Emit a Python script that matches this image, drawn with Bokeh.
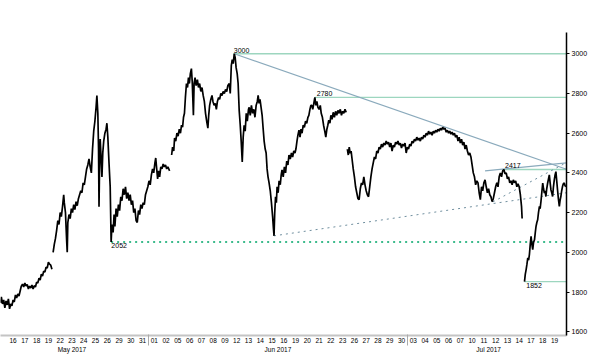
from bokeh.plotting import figure
from bokeh.models import Range1d, FixedTicker, LinearAxis, Label
from bokeh.embed import file_html
from bokeh.resources import INLINE

# x = business-day index (0 = 16 May 2017), y = price
day_labels = ["16", "17", "18", "19", "22", "23", "24", "25", "26", "29", "30", "31",
              "01", "02", "05", "06", "07", "08", "09", "12", "13", "14", "15", "16",
              "19", "20", "21", "22", "23", "26", "27", "28", "29", "30",
              "03", "04", "05", "06", "07", "10", "11", "12", "13", "14", "17", "18", "19"]
month_names = ["May 2017", "Jun 2017", "Jul 2017"]
month_pos = [5.0, 22.5, 40.4]
month_breaks = [11.5, 33.5]
y_ticks = [1600, 1800, 2000, 2200, 2400, 2600, 2800, 3000]

seg1 = [(-1.07, 1745), (-1.0, 1775), (-0.9, 1740), (-0.8, 1760), (-0.7, 1720), (-0.6, 1755),
        (-0.5, 1735), (-0.4, 1765), (-0.3, 1715), (-0.2, 1740), (-0.1, 1730), (0.0, 1760),
        (0.1, 1750), (0.2, 1785), (0.3, 1770), (0.4, 1790), (0.5, 1780), (0.6, 1805),
        (0.7, 1830), (0.8, 1840), (0.9, 1825), (1.0, 1845), (1.1, 1830), (1.2, 1838),
        (1.3, 1815), (1.4, 1830), (1.5, 1820), (1.6, 1835), (1.7, 1815), (1.8, 1832),
        (1.9, 1825), (2.0, 1850), (2.1, 1845), (2.2, 1870), (2.3, 1860), (2.4, 1890),
        (2.5, 1880), (2.6, 1905), (2.7, 1900), (2.8, 1925), (2.9, 1920), (3.0, 1950),
        (3.1, 1940), (3.2, 1935), (3.3, 1915)]

seg2 = [(3.4, 2000), (3.5, 2040), (3.6, 2070), (3.7, 2110), (3.8, 2160), (3.9, 2140),
        (4.0, 2200), (4.1, 2180), (4.2, 2230), (4.3, 2290), (4.35, 2250), (4.45, 2200),
        (4.55, 2060), (4.6, 2000), (4.65, 2150), (4.75, 2190), (4.85, 2170), (4.95, 2220),
        (5.05, 2200), (5.15, 2240), (5.25, 2215), (5.35, 2255), (5.45, 2235), (5.55, 2270),
        (5.65, 2290), (5.75, 2310), (5.85, 2300), (5.95, 2350), (6.05, 2340), (6.15, 2380),
        (6.25, 2420), (6.35, 2440), (6.45, 2470), (6.55, 2430), (6.65, 2400), (6.75, 2520),
        (6.85, 2610), (6.95, 2660), (7.05, 2730), (7.12, 2790), (7.2, 2700), (7.26, 2520),
        (7.3, 2230), (7.35, 2450), (7.4, 2570), (7.48, 2470), (7.55, 2380), (7.62, 2500),
        (7.7, 2560), (7.8, 2600), (7.9, 2620), (7.97, 2650), (8.05, 2580), (8.15, 2450),
        (8.25, 2330), (8.33, 2052), (8.4, 2140), (8.5, 2100), (8.58, 2190), (8.65, 2130),
        (8.75, 2220), (8.85, 2180), (8.95, 2240), (9.05, 2210), (9.15, 2280), (9.25, 2260),
        (9.35, 2320), (9.45, 2290), (9.55, 2330), (9.65, 2270), (9.75, 2300), (9.85, 2260),
        (9.95, 2290), (10.05, 2240), (10.15, 2260), (10.25, 2200), (10.35, 2220),
        (10.45, 2160), (10.55, 2150), (10.65, 2210), (10.75, 2190), (10.85, 2240),
        (10.95, 2220), (11.05, 2250), (11.15, 2240), (11.25, 2290), (11.35, 2310),
        (11.45, 2330), (11.55, 2360), (11.65, 2340), (11.75, 2390), (11.85, 2420),
        (11.95, 2400), (12.05, 2450), (12.12, 2475), (12.2, 2420), (12.28, 2370),
        (12.36, 2410), (12.45, 2380), (12.55, 2430), (12.65, 2420), (12.75, 2445),
        (12.85, 2430), (12.95, 2440), (13.05, 2420), (13.15, 2430), (13.3, 2410)]

seg3 = [(13.47, 2490), (13.55, 2530), (13.65, 2510), (13.72, 2575), (13.82, 2560),
        (13.92, 2600), (14.02, 2585), (14.12, 2620), (14.22, 2600), (14.31, 2640),
        (14.4, 2630), (14.48, 2680), (14.56, 2700), (14.64, 2780), (14.73, 2850),
        (14.82, 2830), (14.9, 2880), (14.98, 2850), (15.06, 2900), (15.15, 2925),
        (15.22, 2860), (15.28, 2760), (15.32, 2690), (15.38, 2850), (15.46, 2880),
        (15.55, 2840), (15.66, 2870), (15.75, 2830), (15.85, 2850), (15.95, 2810),
        (16.05, 2830), (16.15, 2790), (16.25, 2760), (16.35, 2700), (16.45, 2660),
        (16.55, 2625), (16.62, 2690), (16.7, 2740), (16.8, 2770), (16.9, 2790),
        (16.98, 2760), (17.08, 2740), (17.18, 2750), (17.27, 2720), (17.36, 2760),
        (17.46, 2780), (17.55, 2770), (17.65, 2800), (17.75, 2790), (17.85, 2810),
        (17.95, 2800), (18.05, 2820), (18.15, 2810), (18.25, 2840), (18.37, 2850),
        (18.45, 2800), (18.54, 2940), (18.62, 2970), (18.7, 2950), (18.79, 3000),
        (18.87, 2980), (18.95, 2930), (19.04, 2900), (19.12, 2850), (19.21, 2715),
        (19.3, 2640), (19.38, 2560), (19.47, 2455), (19.55, 2580), (19.63, 2640),
        (19.72, 2610), (19.81, 2700), (19.9, 2660), (20.0, 2720), (20.06, 2730),
        (20.15, 2690), (20.25, 2740), (20.35, 2700), (20.45, 2720), (20.55, 2680),
        (20.65, 2740), (20.75, 2760), (20.82, 2790), (20.9, 2750), (20.98, 2770),
        (21.07, 2730), (21.16, 2690), (21.25, 2620), (21.33, 2560), (21.42, 2520),
        (21.5, 2500), (21.58, 2420), (21.66, 2380), (21.75, 2350), (21.85, 2310),
        (21.95, 2250), (22.05, 2180), (22.12, 2120), (22.17, 2083), (22.23, 2200),
        (22.3, 2280), (22.37, 2250), (22.43, 2330), (22.52, 2300), (22.6, 2360),
        (22.7, 2340), (22.78, 2390), (22.85, 2415), (22.95, 2380), (23.05, 2430),
        (23.15, 2400), (23.25, 2460), (23.35, 2440), (23.44, 2490), (23.55, 2470),
        (23.65, 2500), (23.75, 2480), (23.85, 2510), (23.95, 2500), (24.03, 2520),
        (24.12, 2560), (24.2, 2590), (24.29, 2615), (24.38, 2580), (24.46, 2620),
        (24.55, 2600), (24.65, 2640), (24.75, 2630), (24.85, 2660), (24.95, 2650),
        (25.05, 2680), (25.13, 2690), (25.22, 2720), (25.3, 2740), (25.38, 2740),
        (25.46, 2720), (25.55, 2750), (25.64, 2780), (25.72, 2740), (25.81, 2760),
        (25.9, 2730), (26.0, 2720), (26.1, 2740), (26.18, 2700), (26.28, 2680),
        (26.38, 2640), (26.48, 2610), (26.57, 2580), (26.66, 2620), (26.74, 2640),
        (26.82, 2665), (26.92, 2650), (27.0, 2690), (27.1, 2670), (27.2, 2705),
        (27.3, 2680), (27.4, 2710), (27.5, 2690), (27.6, 2715), (27.7, 2700),
        (27.8, 2720), (27.9, 2690), (28.0, 2710), (28.1, 2700), (28.2, 2720), (28.3, 2705)]

seg4 = [(28.4, 2520), (28.48, 2490), (28.56, 2530), (28.64, 2500), (28.72, 2510),
        (28.8, 2470), (28.9, 2420), (29.0, 2380), (29.1, 2330), (29.2, 2300), (29.3, 2270),
        (29.4, 2265), (29.5, 2320), (29.6, 2350), (29.7, 2340), (29.8, 2380), (29.9, 2340),
        (30.0, 2310), (30.1, 2290), (30.2, 2280), (30.3, 2330), (30.4, 2380), (30.5, 2420),
        (30.6, 2450), (30.7, 2480), (30.8, 2470), (30.9, 2510), (31.0, 2500), (31.1, 2530),
        (31.2, 2520), (31.3, 2545), (31.4, 2530), (31.5, 2550), (31.6, 2540), (31.7, 2560),
        (31.8, 2545), (31.9, 2555), (32.0, 2530), (32.1, 2550), (32.2, 2510), (32.3, 2540),
        (32.4, 2530), (32.5, 2555), (32.6, 2545), (32.7, 2560), (32.8, 2540), (32.9, 2550),
        (33.0, 2525), (33.1, 2545), (33.2, 2535), (33.3, 2550), (33.4, 2500), (33.5, 2530),
        (33.6, 2520), (33.7, 2545), (33.8, 2535), (33.9, 2560), (34.0, 2550), (34.1, 2570),
        (34.2, 2560), (34.3, 2580), (34.4, 2565), (34.5, 2575), (34.6, 2560), (34.7, 2580),
        (34.8, 2570), (34.9, 2590), (35.0, 2580), (35.1, 2600), (35.2, 2590), (35.3, 2610),
        (35.4, 2595), (35.5, 2605), (35.6, 2590), (35.7, 2610), (35.8, 2600), (35.9, 2615),
        (36.0, 2605), (36.1, 2620), (36.2, 2610), (36.3, 2625), (36.4, 2615), (36.5, 2630),
        (36.6, 2620), (36.7, 2625), (36.8, 2605), (36.9, 2615), (37.0, 2600), (37.1, 2610),
        (37.2, 2595), (37.3, 2605), (37.4, 2590), (37.5, 2600), (37.6, 2580), (37.7, 2590),
        (37.8, 2560), (37.9, 2580), (38.0, 2550), (38.1, 2570), (38.2, 2540), (38.3, 2555),
        (38.4, 2520), (38.5, 2540), (38.6, 2510), (38.7, 2490), (38.8, 2500), (38.9, 2480),
        (39.0, 2440), (39.1, 2400), (39.2, 2380), (39.3, 2340), (39.4, 2360), (39.5, 2350),
        (39.6, 2300), (39.7, 2265), (39.8, 2330), (39.9, 2310), (40.0, 2350), (40.1, 2365),
        (40.2, 2330), (40.3, 2300), (40.4, 2320), (40.5, 2290), (40.6, 2280), (40.7, 2255),
        (40.8, 2270), (40.9, 2300), (41.0, 2330), (41.1, 2350), (41.2, 2330), (41.3, 2380),
        (41.4, 2400), (41.5, 2380), (41.6, 2410), (41.7, 2417), (41.8, 2395), (41.9, 2400),
        (42.0, 2370), (42.1, 2380), (42.2, 2350), (42.3, 2360), (42.4, 2340), (42.5, 2365),
        (42.6, 2350), (42.7, 2360), (42.8, 2330), (42.9, 2345), (43.0, 2330), (43.1, 2290),
        (43.2, 2230), (43.25, 2170)]

seg5 = [(43.45, 1852), (43.52, 1890), (43.59, 1913), (43.66, 1940), (43.73, 1972),
        (43.8, 1960), (43.87, 1990), (43.94, 2040), (44.01, 2080), (44.08, 2040),
        (44.15, 2013), (44.22, 2050), (44.3, 2063), (44.37, 2100), (44.43, 2130),
        (44.5, 2150), (44.57, 2164), (44.64, 2200), (44.72, 2231), (44.78, 2220),
        (44.85, 2256), (44.92, 2300), (45.0, 2349), (45.07, 2320), (45.14, 2298),
        (45.2, 2310), (45.27, 2281), (45.34, 2320), (45.42, 2349), (45.49, 2370),
        (45.56, 2390), (45.63, 2350), (45.7, 2314), (45.77, 2300), (45.84, 2281),
        (45.91, 2330), (45.98, 2364), (46.05, 2390), (46.12, 2406), (46.19, 2360),
        (46.26, 2314), (46.33, 2270), (46.41, 2231), (46.47, 2260), (46.54, 2281),
        (46.61, 2310), (46.68, 2331), (46.75, 2345), (46.83, 2349), (46.9, 2335),
        (46.97, 2329.75)]

last_price = 2329.75

# horizontal levels
level_values = [3000, 2780, 2417, 1852]
level_start = [18.7, 25.64, 41.7, 43.45]
support_value = 2052
support_start = 8.33

# trend lines (start t, start price, end t, end price)
trend_solid = [(18.79, 3000, 47.02, 2418), (40.1, 2410, 47.02, 2450)]
trend_dotted = [(22.17, 2083, 47.02, 2300), (40.77, 2254, 47.02, 2452)]

X_END = 47.02

p = figure(width=592, height=355, x_range=Range1d(-1.07, X_END), y_range=Range1d(1581, 3107),
           y_axis_location="right", output_backend="svg", toolbar_location=None,
           min_border_left=0, min_border_top=32, min_border_bottom=19, min_border_right=26)
p.grid.visible = False
p.outline_line_color = None
p.background_fill_color = "white"
p.border_fill_color = "white"

FONT = "Liberation Sans"

# levels
p.segment(x0=level_start, y0=level_values, x1=[X_END] * len(level_values), y1=level_values,
          line_color="#9dd6bf", line_width=1.3)
p.segment(x0=[support_start], y0=[support_value], x1=[X_END], y1=[support_value],
          line_color="#3dbb8c", line_width=2, line_dash="2 4")
p.segment(x0=[t[0] for t in trend_solid], y0=[t[1] for t in trend_solid],
          x1=[t[2] for t in trend_solid], y1=[t[3] for t in trend_solid],
          line_color="#8aaabc", line_width=1.2)
p.segment(x0=[t[0] for t in trend_dotted], y0=[t[1] for t in trend_dotted],
          x1=[t[2] for t in trend_dotted], y1=[t[3] for t in trend_dotted],
          line_color="#6f8e9e", line_width=1, line_dash="2 4")

for seg in (seg1, seg2, seg3, seg4, seg5):
    p.line([s[0] for s in seg], [s[1] for s in seg], line_color="black", line_width=1.7)

# text labels at levels
def add_label(x, y, txt, baseline):
    p.add_layout(Label(x=x, y=y, text=txt, text_font=FONT, text_font_size="7px",
                       text_color="black", text_baseline=baseline, text_align="left"))

add_label(18.75, 3000 + 6, "3000", "bottom")
add_label(25.8, 2780 + 6, "2780", "bottom")
add_label(41.8, 2417 + 6, "2417", "bottom")
add_label(8.35, 2052 - 6, "2052", "top")
add_label(43.6, 1852 - 6, "1852", "top")

# last price box
p.add_layout(Label(x=X_END, y=last_price, x_offset=1, text=f"{last_price:.4f}", text_font=FONT,
                   text_font_size="5px", text_color="white", text_baseline="middle",
                   background_fill_color="black"))

# y axis (right)
ya = p.yaxis[0]
ya.ticker = FixedTicker(ticks=y_ticks)
ya.axis_line_color = "black"
ya.axis_line_width = 1.5
ya.major_tick_out = 3
ya.major_tick_in = 0
ya.major_tick_line_color = "black"
ya.minor_tick_line_color = None
ya.major_label_text_font = FONT
ya.major_label_text_font_size = "7px"
ya.major_label_text_color = "black"
ya.major_label_standoff = 2

# x axis: days
xa = p.xaxis[0]
xa.ticker = FixedTicker(ticks=list(range(len(day_labels))))
xa.major_label_overrides = {i: d for i, d in enumerate(day_labels)}
xa.axis_line_color = "#c4c4c4"
xa.axis_line_width = 2
xa.major_tick_line_color = None
xa.major_tick_out = 0
xa.minor_tick_line_color = None
xa.major_label_text_font = FONT
xa.major_label_text_font_size = "6.5px"
xa.major_label_text_color = "black"
xa.major_label_standoff = 2

# x axis: months (with month dividers as minor ticks reaching up to the day axis)
ma = LinearAxis(ticker=FixedTicker(ticks=month_pos, minor_ticks=month_breaks),
                major_label_overrides={pos: name for pos, name in zip(month_pos, month_names)},
                axis_line_color=None, major_tick_line_color=None,
                minor_tick_line_color="#aaaaaa", minor_tick_in=11, minor_tick_out=0,
                major_tick_out=0, major_tick_in=0,
                major_label_standoff=0, major_label_text_font=FONT,
                major_label_text_font_size="6.5px", major_label_text_color="black")
p.add_layout(ma, "below")

open("out.html", "w").write(file_html(p, INLINE))
